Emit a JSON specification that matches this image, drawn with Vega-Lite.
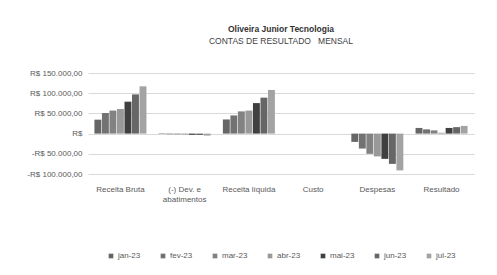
{
  "$schema": "https://vega.github.io/schema/vega-lite/v6.json",
  "autosize": "none",
  "width": 386,
  "height": 101,
  "padding": {"left": 88, "top": 73, "right": 23, "bottom": 101},
  "background": "white",
  "title": {
    "text": "Oliveira Junior Tecnologia",
    "subtitle": "CONTAS DE RESULTADO\u00a0\u00a0\u00a0MENSAL",
    "anchor": "middle",
    "font": "Liberation Sans",
    "fontSize": 8.5,
    "fontWeight": "bold",
    "color": "#333333",
    "subtitleFont": "Liberation Sans",
    "subtitleFontSize": 8.5,
    "subtitleColor": "#404040",
    "subtitlePadding": 3,
    "offset": 24
  },
  "data": {
    "values": [
      {"conta": "Receita  Bruta", "mes": "jan-23", "valor": 34500},
      {"conta": "Receita  Bruta", "mes": "fev-23", "valor": 51000},
      {"conta": "Receita  Bruta", "mes": "mar-23", "valor": 57000},
      {"conta": "Receita  Bruta", "mes": "abr-23", "valor": 61000},
      {"conta": "Receita  Bruta", "mes": "mai-23", "valor": 79000},
      {"conta": "Receita  Bruta", "mes": "jun-23", "valor": 97000},
      {"conta": "Receita  Bruta", "mes": "jul-23", "valor": 117000},
      {"conta": "(-) Dev. e abatimentos", "mes": "jan-23", "valor": -1000},
      {"conta": "(-) Dev. e abatimentos", "mes": "fev-23", "valor": -1500},
      {"conta": "(-) Dev. e abatimentos", "mes": "mar-23", "valor": -1800},
      {"conta": "(-) Dev. e abatimentos", "mes": "abr-23", "valor": -2200},
      {"conta": "(-) Dev. e abatimentos", "mes": "mai-23", "valor": -3000},
      {"conta": "(-) Dev. e abatimentos", "mes": "jun-23", "valor": -3500},
      {"conta": "(-) Dev. e abatimentos", "mes": "jul-23", "valor": -5000},
      {"conta": "Receita líquida", "mes": "jan-23", "valor": 35000},
      {"conta": "Receita líquida", "mes": "fev-23", "valor": 45000},
      {"conta": "Receita líquida", "mes": "mar-23", "valor": 55000},
      {"conta": "Receita líquida", "mes": "abr-23", "valor": 57000},
      {"conta": "Receita líquida", "mes": "mai-23", "valor": 75500},
      {"conta": "Receita líquida", "mes": "jun-23", "valor": 89000},
      {"conta": "Receita líquida", "mes": "jul-23", "valor": 108000},
      {"conta": "Custo", "mes": "jan-23", "valor": 0},
      {"conta": "Custo", "mes": "fev-23", "valor": 0},
      {"conta": "Custo", "mes": "mar-23", "valor": 0},
      {"conta": "Custo", "mes": "abr-23", "valor": 0},
      {"conta": "Custo", "mes": "mai-23", "valor": 0},
      {"conta": "Custo", "mes": "jun-23", "valor": 0},
      {"conta": "Custo", "mes": "jul-23", "valor": 0},
      {"conta": "Despesas", "mes": "jan-23", "valor": -20500},
      {"conta": "Despesas", "mes": "fev-23", "valor": -37000},
      {"conta": "Despesas", "mes": "mar-23", "valor": -50000},
      {"conta": "Despesas", "mes": "abr-23", "valor": -56500},
      {"conta": "Despesas", "mes": "mai-23", "valor": -62500},
      {"conta": "Despesas", "mes": "jun-23", "valor": -75000},
      {"conta": "Despesas", "mes": "jul-23", "valor": -91000},
      {"conta": "Resultado", "mes": "jan-23", "valor": 14000},
      {"conta": "Resultado", "mes": "fev-23", "valor": 10500},
      {"conta": "Resultado", "mes": "mar-23", "valor": 8000},
      {"conta": "Resultado", "mes": "abr-23", "valor": 2000},
      {"conta": "Resultado", "mes": "mai-23", "valor": 14000},
      {"conta": "Resultado", "mes": "jun-23", "valor": 16000},
      {"conta": "Resultado", "mes": "jul-23", "valor": 19000}
    ]
  },
  "mark": {"type": "bar"},
  "encoding": {
    "x": {
      "field": "conta",
      "type": "nominal",
      "sort": null,
      "scale": {"paddingInner": 0.19, "paddingOuter": 0.1},
      "axis": {
        "title": null,
        "orient": "bottom",
        "domain": false,
        "ticks": false,
        "labelAngle": 0,
        "labelPadding": 11,
        "labelFont": "Liberation Sans",
        "labelFontSize": 8,
        "labelColor": "#595959",
        "labelExpr": "datum.label == '(-) Dev. e abatimentos' ? ['(-) Dev. e', 'abatimentos'] : datum.label"
      }
    },
    "xOffset": {
      "field": "mes",
      "type": "nominal",
      "sort": ["jan-23", "fev-23", "mar-23", "abr-23", "mai-23", "jun-23", "jul-23"],
      "scale": {"paddingInner": 0.08}
    },
    "y": {
      "field": "valor",
      "type": "quantitative",
      "scale": {"domain": [-100000, 150000], "nice": false},
      "axis": {
        "title": null,
        "values": [-100000, -50000, 0, 50000, 100000, 150000],
        "domain": false,
        "ticks": false,
        "grid": true,
        "gridColor": "#d9d9d9",
        "labelOverlap": false,
        "labelBound": false,
        "labelPadding": 6,
        "labelFont": "Liberation Sans",
        "labelFontSize": 8,
        "labelColor": "#595959",
        "labelExpr": "datum.value == 0 ? 'R$' : (datum.value < 0 ? '-' : '') + 'R$ ' + replace(replace(replace(format(abs(datum.value), ',.2f'), ',', '_'), '.', ','), '_', '.')"
      }
    },
    "color": {
      "field": "mes",
      "type": "nominal",
      "sort": ["jan-23", "fev-23", "mar-23", "abr-23", "mai-23", "jun-23", "jul-23"],
      "scale": {
        "domain": ["jan-23", "fev-23", "mar-23", "abr-23", "mai-23", "jun-23", "jul-23"],
        "range": ["#666666", "#727272", "#828282", "#999999", "#404040", "#666666", "#a3a3a3"]
      },
      "legend": {
        "title": null,
        "orient": "bottom",
        "direction": "horizontal",
        "offset": 49,
        "symbolType": "square",
        "symbolSize": 22,
        "symbolStrokeWidth": 0,
        "columnPadding": 18,
        "labelFont": "Liberation Sans",
        "labelFontSize": 8,
        "labelColor": "#595959",
        "labelOffset": 3
      }
    }
  },
  "config": {
    "view": {"stroke": null},
    "legend": {"layout": {"bottom": {"anchor": "middle"}}}
  }
}
